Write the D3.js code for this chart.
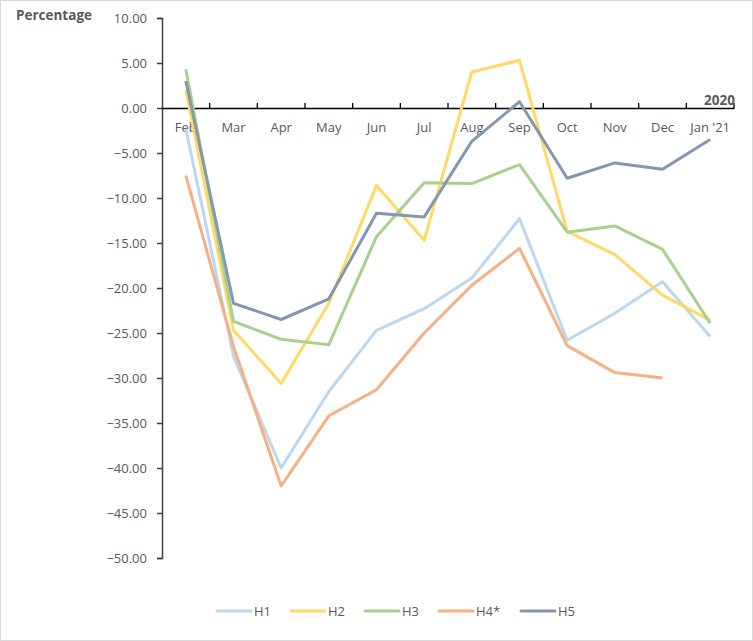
<!DOCTYPE html>
<html><head><meta charset="utf-8">
<script src="https://cdn.jsdelivr.net/npm/d3@7"></script>
<style>body{margin:0;background:#fff}svg{display:block}text{font-family:"Open Sans",sans-serif}</style>
</head><body>
<script>
const months = ["Feb","Mar","Apr","May","Jun","Jul","Aug","Sep","Oct","Nov","Dec","Jan '21"];
const H1 = [-2.3,-27.6,-40.0,-31.5,-24.7,-22.3,-18.9,-12.3,-25.8,-22.8,-19.3,-25.4];
const H2 = [2.0,-24.7,-30.6,-21.7,-8.6,-14.7,4.0,5.3,-13.7,-16.3,-20.8,-23.6];
const H3 = [4.3,-23.7,-25.7,-26.3,-14.3,-8.3,-8.4,-6.3,-13.8,-13.1,-15.7,-23.9];
const H4 = [-7.5,-26.5,-42.0,-34.2,-31.3,-25.0,-19.7,-15.6,-26.4,-29.4,-30.0,null];
const H5 = [3.0,-21.7,-23.5,-21.2,-11.7,-12.1,-3.7,0.7,-7.8,-6.1,-6.8,-3.5];
const seriesNames = ["H1","H2","H3","H4*","H5"];
const seriesColors = ["#BDD7EE","#FFD966","#A9D18E","#F4B183","#8497B0"];
const yTicks = [10,5,0,-5,-10,-15,-20,-25,-30,-35,-40,-45,-50];

const series = [H1,H2,H3,H4,H5];
const W=753,H=641;
const svg=d3.select("body").append("svg").attr("width",W).attr("height",H);
svg.append("rect").attr("x",0.5).attr("y",0.5).attr("width",W-1).attr("height",H-1).attr("fill","#fff").attr("stroke","#d9d9d9");

const x=d3.scaleBand().domain(months).range([162,734]);
const y=d3.scaleLinear().domain([-50,10]).range([558,18]);
const grey="#595959";

// y axis
const ya=svg.append("g").attr("transform","translate(162,0)")
  .call(d3.axisLeft(y).tickValues(yTicks).tickSize(5).tickPadding(10).tickFormat(d=>d3.format(".2f")(d)));
ya.select(".domain").attr("stroke","#404040").attr("stroke-width",1.5);
ya.selectAll(".tick line").attr("stroke","#404040").attr("stroke-width",1.5);
ya.selectAll(".tick text").attr("fill",grey).attr("font-size",13);

// x axis at zero
const xa=svg.append("g").attr("transform",`translate(0,${y(0)})`)
  .call(d3.axisTop(x).tickSize(0).tickSizeOuter(0).tickFormat(""));
xa.select(".domain").attr("stroke","#000").attr("stroke-width",1.3);
xa.selectAll(".tick").remove();
months.forEach((m,i)=>{
  if(i>0||true){
    const bx=x(m)+x.bandwidth();
    xa.append("line").attr("x1",bx).attr("x2",bx).attr("y1",0).attr("y2",-5).attr("stroke","#000").attr("stroke-width",1.3);
  }
});
svg.append("g").selectAll("text").data(months).join("text")
  .attr("x",d=>x(d)+x.bandwidth()/2).attr("y",y(0)+24)
  .attr("text-anchor","middle").attr("fill",grey).attr("font-size",13).text(d=>d);

// lines
const line=d3.line().defined(d=>d!=null).x((d,i)=>x(months[i])+x.bandwidth()/2).y(d=>y(d));
series.forEach((s,k)=>{
  svg.append("path").datum(s).attr("d",line).attr("fill","none")
    .attr("stroke",seriesColors[k]).attr("stroke-width",3).attr("stroke-linejoin","round");
});

// titles
svg.append("text").attr("x",16).attr("y",20).attr("fill",grey).attr("font-size",13.5).attr("font-weight","bold").text("Percentage");
svg.append("text").attr("x",735).attr("y",105).attr("text-anchor","end").attr("fill",grey).attr("font-size",13.5).attr("font-weight","bold").text("2020");

// legend
const legX=[217,291,365,439,521];
const lg=svg.append("g");
seriesNames.forEach((n,k)=>{
  lg.append("line").attr("x1",legX[k]).attr("x2",legX[k]+34).attr("y1",611).attr("y2",611)
    .attr("stroke",seriesColors[k]).attr("stroke-width",3).attr("stroke-linecap","round");
  lg.append("text").attr("x",legX[k]+37).attr("y",616).attr("fill",grey).attr("font-size",13).text(n);
});
</script>
</body></html>
